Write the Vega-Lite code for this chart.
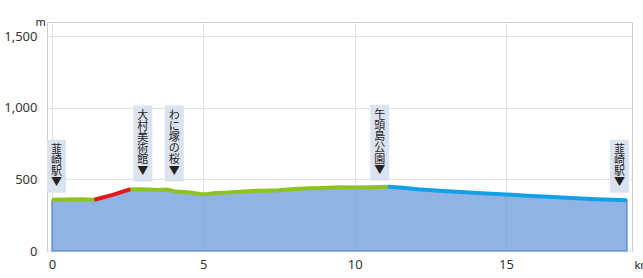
{
  "$schema": "https://vega.github.io/schema/vega-lite/v6.json",
  "width": 585,
  "height": 229,
  "autosize": "none",
  "padding": {"left": 47, "top": 22, "right": 11, "bottom": 27},
  "background": "white",
  "config": {
    "view": {"stroke": "#cfcfcf", "strokeWidth": 1},
    "axis": {"gridColor": "#e2e2e2", "labelColor": "#333333", "labelFont": "Noto Sans", "labelFontSize": 13, "domain": false, "ticks": false, "titleFont": "Noto Sans", "titleColor": "#222222", "titleFontWeight": "normal"}
  },
  "datasets": {
    "profile": [
      {"km": 0.0, "elev": 358, "seg": "g1"},
      {"km": 0.5, "elev": 360, "seg": "g1"},
      {"km": 1.0, "elev": 361, "seg": "g1"},
      {"km": 1.4, "elev": 358, "seg": "g1"},
      {"km": 1.4, "elev": 358, "seg": "r"},
      {"km": 2.0, "elev": 392, "seg": "r"},
      {"km": 2.6, "elev": 432, "seg": "r"},
      {"km": 2.6, "elev": 432, "seg": "g2"},
      {"km": 3.0, "elev": 431, "seg": "g2"},
      {"km": 3.5, "elev": 427, "seg": "g2"},
      {"km": 3.8, "elev": 429, "seg": "g2"},
      {"km": 4.1, "elev": 415, "seg": "g2"},
      {"km": 4.5, "elev": 411, "seg": "g2"},
      {"km": 4.9, "elev": 398, "seg": "g2"},
      {"km": 5.1, "elev": 396, "seg": "g2"},
      {"km": 5.4, "elev": 406, "seg": "g2"},
      {"km": 5.8, "elev": 408, "seg": "g2"},
      {"km": 6.2, "elev": 414, "seg": "g2"},
      {"km": 6.6, "elev": 420, "seg": "g2"},
      {"km": 7.0, "elev": 421, "seg": "g2"},
      {"km": 7.5, "elev": 425, "seg": "g2"},
      {"km": 8.0, "elev": 433, "seg": "g2"},
      {"km": 8.5, "elev": 438, "seg": "g2"},
      {"km": 9.0, "elev": 441, "seg": "g2"},
      {"km": 9.5, "elev": 445, "seg": "g2"},
      {"km": 10.0, "elev": 443, "seg": "g2"},
      {"km": 10.5, "elev": 446, "seg": "g2"},
      {"km": 11.1, "elev": 449, "seg": "g2"},
      {"km": 11.1, "elev": 449, "seg": "b"},
      {"km": 11.5, "elev": 444, "seg": "b"},
      {"km": 12.1, "elev": 431, "seg": "b"},
      {"km": 12.8, "elev": 421, "seg": "b"},
      {"km": 13.5, "elev": 412, "seg": "b"},
      {"km": 14.2, "elev": 404, "seg": "b"},
      {"km": 15.0, "elev": 395, "seg": "b"},
      {"km": 15.7, "elev": 386, "seg": "b"},
      {"km": 16.4, "elev": 379, "seg": "b"},
      {"km": 17.0, "elev": 372, "seg": "b"},
      {"km": 18.0, "elev": 362, "seg": "b"},
      {"km": 19.0, "elev": 355, "seg": "b"}
    ],
    "labels": [
      {"km": 0.15, "elev": 358, "name": "韮崎駅", "text": "韮\n崎\n駅\n▼"},
      {"km": 3.0, "elev": 436, "name": "大村美術館", "text": "大\n村\n美\n術\n館\n▼"},
      {"km": 4.04, "elev": 436, "name": "わに塚の桜", "text": "わ\nに\n塚\nの\n桜\n▼"},
      {"km": 10.83, "elev": 442, "name": "午頭島公園", "text": "午\n頭\n島\n公\n園\n▼"},
      {"km": 18.75, "elev": 358, "name": "韮崎駅", "text": "韮\n崎\n駅\n▼"}
    ]
  },
  "layer": [
    {
      "data": {"name": "profile"},
      "mark": {"type": "area", "fill": "#5b8fd6", "fillOpacity": 0.68, "stroke": "#4f84cc", "strokeWidth": 1.2},
      "encoding": {
        "x": {"field": "km", "type": "quantitative", "scale": {"domain": [0, 19], "nice": false},
          "axis": {"values": [0, 5, 10, 15], "labelPadding": 7, "title": "km", "titleX": 587, "titleY": 17, "titleAlign": "left", "titleBaseline": "alphabetic", "titleFontSize": 11}},
        "y": {"field": "elev", "type": "quantitative", "stack": null, "scale": {"domain": [0, 1600], "nice": false},
          "axis": {"values": [0, 250, 500, 750, 1000, 1250, 1500], "format": ",.0f", "labelPadding": 10, "title": "m", "titleAngle": 0, "titleX": -12, "titleY": 3, "titleAlign": "left", "titleBaseline": "alphabetic", "titleFontSize": 11}}
      }
    },
    {
      "data": {"name": "profile"},
      "mark": {"type": "line", "strokeWidth": 4, "strokeCap": "butt"},
      "encoding": {
        "x": {"field": "km", "type": "quantitative"},
        "y": {"field": "elev", "type": "quantitative"},
        "color": {"field": "seg", "type": "nominal", "scale": {"domain": ["g1", "r", "g2", "b"], "range": ["#8dc21f", "#e8141c", "#8dc21f", "#12a0e6"]}, "legend": null}
      }
    },
    {
      "data": {"name": "labels"},
      "transform": [{"filter": "length(datum.name) == 3"}],
      "mark": {"type": "bar", "width": 19, "color": "#dce3f0", "yOffset": -60, "y2Offset": -7},
      "encoding": {
        "x": {"field": "km", "type": "quantitative"},
        "y": {"field": "elev", "type": "quantitative"},
        "y2": {"field": "elev"}
      }
    },
    {
      "data": {"name": "labels"},
      "transform": [{"filter": "length(datum.name) == 5"}],
      "mark": {"type": "bar", "width": 19, "color": "#dce3f0", "yOffset": -83, "y2Offset": -7},
      "encoding": {
        "x": {"field": "km", "type": "quantitative"},
        "y": {"field": "elev", "type": "quantitative"},
        "y2": {"field": "elev"}
      }
    },
    {
      "data": {"name": "labels"},
      "transform": [{"filter": "length(datum.name) == 3"}],
      "mark": {"type": "text", "lineBreak": "\n", "baseline": "top", "align": "center", "dy": -56, "font": "Noto Sans CJK JP", "fontSize": 11, "lineHeight": 11.2, "color": "#222222"},
      "encoding": {
        "x": {"field": "km", "type": "quantitative"},
        "y": {"field": "elev", "type": "quantitative"},
        "text": {"field": "text"}
      }
    },
    {
      "data": {"name": "labels"},
      "transform": [{"filter": "length(datum.name) == 5"}],
      "mark": {"type": "text", "lineBreak": "\n", "baseline": "top", "align": "center", "dy": -79, "font": "Noto Sans CJK JP", "fontSize": 11, "lineHeight": 11.2, "color": "#222222"},
      "encoding": {
        "x": {"field": "km", "type": "quantitative"},
        "y": {"field": "elev", "type": "quantitative"},
        "text": {"field": "text"}
      }
    }
  ]
}
